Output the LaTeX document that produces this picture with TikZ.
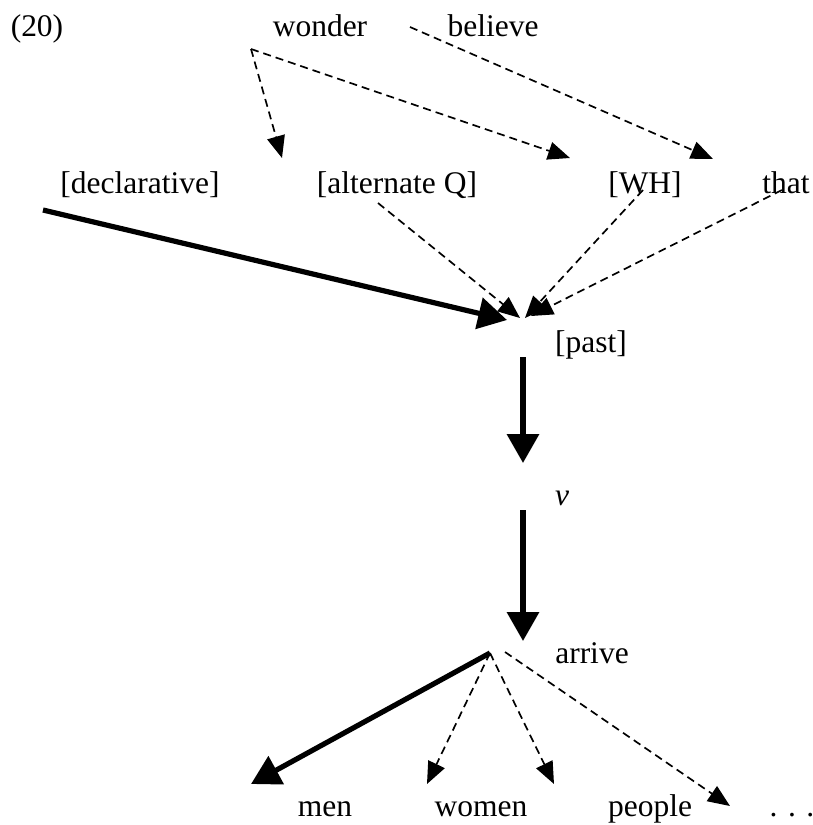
\documentclass[tikz,border=0pt]{standalone}
\usepackage{fontspec}
\setmainfont{Liberation Serif}
\usetikzlibrary{arrows.meta}
\begin{document}
\begin{tikzpicture}[x=0.025cm,y=-0.025cm,
  every node/.style={font=\fontsize{22.4}{26}\selectfont,inner sep=0pt},
  heavy/.style={line width=.13cm,-{Triangle[length=.72cm,width=.78cm]}},
  light/.style={line width=.042cm,dash pattern=on .2cm off .125cm,
    -{Triangle[length=.55cm,width=.45cm]}}]
\useasboundingbox (0,0) rectangle (813,825);
% words
\foreach \name/\x/\y/\txt in {ex/37/36/(20),wonder/320/36/wonder,believe/493/36/believe,
  decl/140/193/{[declarative]},altq/397/193/{[alternate Q]},wh/645/193/{[WH]},that/786/193/that,
  past/591/352/{[past]},v/562/505/{\itshape v},arrive/592/663/arrive,
  men/325/816/men,women/481/816/women,people/650/816/people,dots/792/816/{. . .}}
 \node[anchor=base] (\name) at (\x,\y) {\txt};
% junctions and arrow ends
\foreach \name/\x/\y in {wonder-j/251/49,believe-j/410/27,decl-j/43/210,altq-j/378/203,
  wh-j/643/190,that-j/782/190,altq-in/282/158,wh-in/570/158,that-in/713/159,
  past-in/523/320,past-out/523/357,v-in/523/463,v-out/523/510,arrive-in/523/641,
  arrive-out/490/653,arrive-r/505/652,men-in/251/784,women-l/427/784,women-r/554/784,
  people-in/730/806}
 \coordinate (\name) at (\x,\y);
\draw[light] (wonder-j) -- (altq-in);
\draw[light] (wonder-j) -- (wh-in);
\draw[light] (believe-j) -- (that-in);
\draw[heavy] (decl-j) -- ([shift={(-16,0)}]past-in);
\draw[light] (altq-j) -- ([shift={(-3,-2)}]past-in);
\draw[light] (wh-j) -- ([shift={(2,-2)}]past-in);
\draw[light] (that-j) -- ([shift={(8,-4)}]past-in);
\draw[heavy] (past-out) -- (v-in);
\draw[heavy] (v-out) -- (arrive-in);
\draw[heavy] (arrive-out) -- (men-in);
\draw[light] (arrive-out) -- (women-l);
\draw[light] (arrive-out) -- (women-r);
\draw[light] (arrive-r) -- (people-in);
\end{tikzpicture}
\end{document}
